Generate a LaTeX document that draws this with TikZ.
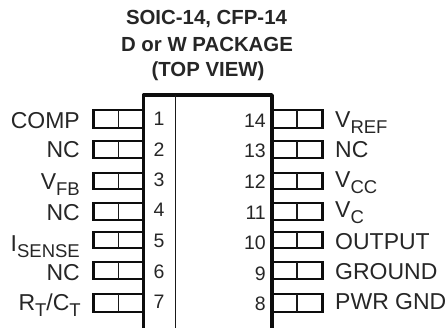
\documentclass[tikz,border=0pt]{standalone}
\usepackage{fontspec}
\setmainfont{Liberation Sans}
\tikzset{
  x=1pt,y=-1pt,
  pinbox/.style={draw=black!95,line width=2.3pt,line join=miter},
  pindiv/.style={draw=black!90,line width=1.5pt},
  bodyline/.style={draw=black!95,line width=3.4pt,line join=round},
  thinline/.style={draw=black!90,line width=1pt},
  lab/.style={inner sep=0pt,font=\fontsize{23}{25}\selectfont,text=black!85},
  leftlab/.style={lab,anchor=base east},
  rightlab/.style={lab,anchor=base west},
  num/.style={inner sep=0pt,font=\fontsize{19.5}{21}\selectfont,text=black!85},
  ttl/.style={inner sep=0pt,font=\bfseries\fontsize{20.4}{22}\selectfont,text=black!85,anchor=base}
}
\newcommand{\sbs}[1]{\raisebox{-5.5pt}{\fontsize{18.5}{20}\selectfont #1}}
\begin{document}
\begin{tikzpicture}
\useasboundingbox (0,0) rectangle (448,328);
\node[ttl] (t1) at (206.5,25) {SOIC-14, CFP-14};
\node[ttl] (t2) at (207,52) {D or W PACKAGE};
\node[ttl] (t3) at (208,77) {(TOP VIEW)};
% pins
\foreach \t/\b in {110/128,141/158,173/189,203/220,232/248,262/279,294/312}{
  \draw[pinbox] (143,\t) -- (93.5,\t) -- (93.5,\b) -- (143,\b);
  \draw[pindiv] (118.5,\t) -- (118.5,\b);
  \draw[pinbox] (272,\t) -- (322.5,\t) -- (322.5,\b) -- (272,\b);
  \draw[pindiv] (297,\t) -- (297,\b);
}
% body
\draw[bodyline] (143.5,328) -- (143.5,95) -- (272,95) -- (272,328);
\draw[thinline] (175,95) -- (175,328);
% numbers
\foreach \n/\y in {1/126,2/157,3/187,4/217,5/248,6/279,7/309}{
  \node[num,anchor=base] (l\n) at (159,\y) {\n};
}
\foreach \n/\y in {14/128,13/158,12/189,11/220,10/250,9/281,8/311}{
  \node[num,anchor=base east] (r\n) at (266,\y) {\n};
}
% left labels
\node[leftlab] (a1) at (80,129) {COMP};
\node[leftlab] (a2) at (80,158) {NC};
\node[leftlab] (a3) at (80,190) {V\sbs{FB}};
\node[leftlab] (a4) at (80,221) {NC};
\node[leftlab] (a5) at (80,252) {I\sbs{SENSE}};
\node[leftlab] (a6) at (80,281) {NC};
\node[leftlab] (a7) at (81,311) {R\sbs{T}/C\sbs{T}};
% right labels
\node[rightlab] (b14) at (335,128) {V\sbs{REF}};
\node[rightlab] (b13) at (335,158) {NC};
\node[rightlab] (b12) at (335,188) {V\sbs{CC}};
\node[rightlab] (b11) at (335,218) {V\sbs{C}};
\node[rightlab] (b10) at (335,250) {OUTPUT};
\node[rightlab] (b9) at (335,280) {GROUND};
\node[rightlab] (b8) at (335,310) {PWR GND};
\end{tikzpicture}
\end{document}
